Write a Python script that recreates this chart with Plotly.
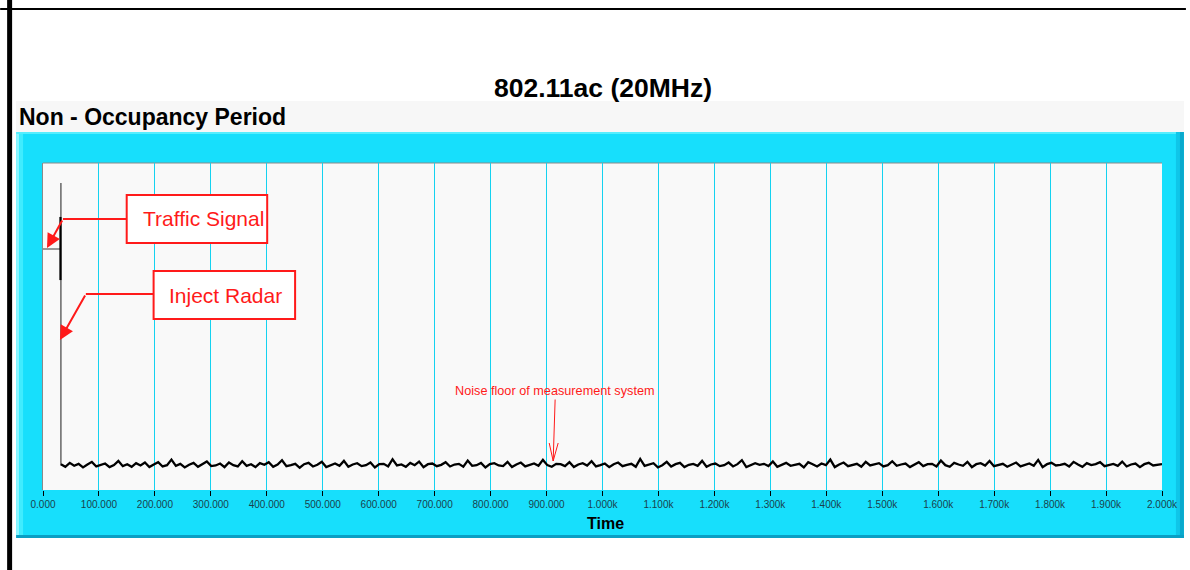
import numpy as np
import plotly.graph_objects as go

# ---------------- data ----------------
tick_values = [0, 100, 200, 300, 400, 500, 600, 700, 800, 900, 1000,
               1100, 1200, 1300, 1400, 1500, 1600, 1700, 1800, 1900, 2000]
tick_labels = ["0.000", "100.000", "200.000", "300.000", "400.000", "500.000",
               "600.000", "700.000", "800.000", "900.000", "1.000k", "1.100k",
               "1.200k", "1.300k", "1.400k", "1.500k", "1.600k", "1.700k",
               "1.800k", "1.900k", "2.000k"]

traffic_time = [0, 32]
traffic_level = [73.7, 73.7]
burst_time = [31.2, 31.2]
burst_level = [83.5, 64.2]
radar_time = [32, 32]
radar_level = [93.9, 7.6]

noise_level = [
    7.9, 7.1, 8.3, 7.4, 8.0, 6.9, 7.8, 8.6, 7.2, 7.7,
    8.1, 7.0, 7.6, 8.9, 7.3, 7.9, 7.1, 8.2, 7.5, 8.4,
    7.0, 7.8, 8.5, 7.2, 7.6, 9.3, 7.4, 8.0, 6.9, 7.7,
    8.3, 7.1, 7.9, 8.7, 7.3, 7.5, 8.1, 7.0, 8.4, 7.6,
    7.2, 8.8, 7.4, 7.9, 7.0, 8.2, 7.7, 8.5, 7.1, 7.8,
    9.1, 7.3, 7.6, 8.0, 6.8, 7.9, 8.3, 7.2, 7.7, 8.6,
    7.0, 7.5, 8.1, 7.4, 8.9, 7.1, 7.8, 8.2, 7.3, 7.6,
    8.4, 6.9, 7.9, 8.0, 7.2, 9.4, 7.5, 7.8, 7.1, 8.3,
    7.6, 8.7, 7.0, 7.9, 8.1, 7.3, 7.7, 8.5, 7.2, 7.8,
    8.0, 7.1, 9.0, 7.4, 7.6, 8.3, 6.9, 7.9, 8.2, 7.5,
    7.3, 8.6, 7.0, 7.8, 8.4, 7.2, 7.7, 8.1, 7.4, 9.2,
    7.6, 7.1, 8.0, 7.9, 7.3, 8.5, 7.0, 7.8, 8.2, 7.5,
    8.8, 7.2, 7.6, 8.1, 7.0, 7.9, 8.4, 7.3, 7.7, 8.0,
    7.1, 9.5, 7.4, 7.8, 8.2, 6.9, 7.6, 8.6, 7.2, 7.9,
    8.3, 7.0, 7.7, 8.0, 7.4, 8.9, 7.1, 7.8, 8.1, 7.3,
    7.6, 8.4, 7.2, 7.9, 9.1, 7.0, 7.5, 8.2, 7.7, 8.0,
    7.3, 8.7, 7.1, 7.8, 8.3, 7.4, 7.6, 8.0, 6.9, 8.5,
    7.9, 7.2, 8.1, 7.6, 9.3, 7.0, 7.8, 8.4, 7.3, 7.7,
    8.0, 7.1, 8.6, 7.5, 7.9, 8.2, 7.2, 7.6, 8.8, 7.4,
    7.8, 8.1, 7.0, 7.7, 8.5, 7.3, 7.9, 8.0, 7.2, 9.0,
    7.6, 7.1, 8.3, 7.8, 7.4, 8.6, 7.0, 7.9, 8.2, 7.5,
    8.9, 7.3, 7.7, 8.0, 7.1, 7.8, 8.4, 7.2, 7.6, 8.1,
    7.4, 9.2, 7.0, 7.9, 8.3, 7.5, 7.7, 8.0, 7.2, 8.6,
    7.8, 7.1, 8.2, 7.6, 7.9, 8.5, 7.3, 7.7, 8.0, 7.4,
    8.7, 7.2, 7.8, 8.1, 7.0, 7.9, 8.3, 7.5, 7.6, 7.9,
]
noise_time = np.linspace(32, 2000, len(noise_level))

# ---------------- layout helpers ----------------
W, H = 1190, 570
L, R, T, B = 43, 1166, 163, 490
PW, PH = R - L, B - T


def px(x):
    return (x - L) / PW


def py(y):
    return (B - y) / PH


FONT = "Arial, Liberation Sans, sans-serif"
CYAN = "#17dffc"
RED = "#ff1a1a"

fig = go.Figure()

fig.add_trace(go.Scatter(x=traffic_time, y=traffic_level, mode="lines",
                         line=dict(color="#555555", width=1.2), hoverinfo="skip"))
fig.add_trace(go.Scatter(x=radar_time, y=radar_level, mode="lines",
                         line=dict(color="#666666", width=1.5), hoverinfo="skip"))
fig.add_trace(go.Scatter(x=burst_time, y=burst_level, mode="lines",
                         line=dict(color="#000000", width=2.2), hoverinfo="skip"))
fig.add_trace(go.Scatter(x=noise_time, y=noise_level, mode="lines",
                         line=dict(color="#000000", width=2.3), hoverinfo="skip"))


def rect(x0, y0, x1, y1, fill, layer="below", line=None):
    return dict(type="rect", xref="paper", yref="paper",
                x0=px(x0), x1=px(x1), y0=py(y1), y1=py(y0),
                fillcolor=fill, layer=layer,
                line=line if line else dict(width=0))


def seg(x0, y0, x1, y1, color, width, layer="above"):
    return dict(type="line", xref="paper", yref="paper",
                x0=px(x0), x1=px(x1), y0=py(y0), y1=py(y1),
                line=dict(color=color, width=width), layer=layer)


shapes = [
    # light band with subtitle
    rect(16, 101, 1188, 132, "#f7f7f7"),
    # cyan panel
    rect(16, 132, 1188, 538, CYAN),
    rect(16, 132, 19, 538, "#8af6ff"),
    rect(19, 132, 23, 538, "#40ecfe"),
    rect(16, 132, 1188, 134, "#55eefe"),
    rect(1180, 132, 1184, 538, "#0fc6e8"),
    rect(1184, 132, 1188, 538, "#0aa9cd"),
    rect(16, 535, 1188, 538, "#0a9fc4"),
    # plot area
    rect(L, T, R, B, "#f9f9f9"),
    seg(L, T, R, T, "#8a8a8a", 1, "below"),
    # page frame
    rect(7, 0, 12, 570, "#000000", "above"),
    rect(0, 8, 1190, 10, "#000000", "above"),
    # callout boxes
    rect(127, 195, 268, 243, "#ffffff", "above", dict(color=RED, width=2)),
    rect(154, 271, 296, 319, "#ffffff", "above", dict(color=RED, width=2)),
    # callout arrow horizontals
    seg(127, 219, 63, 219, RED, 2),
    seg(154, 294, 86, 294, RED, 2),
    # noise arrow head (open V)
    seg(551, 443, 555, 461, RED, 1),
    seg(560, 443, 555, 461, RED, 1),
]


def xd(x):
    return (x - L) / PW * 2000


def yd(y):
    return (B - y) / PH * 100


annotations = [
    dict(text="<b>802.11ac (20MHz)</b>", x=px(605), y=py(88), xref="paper", yref="paper",
         showarrow=False, xanchor="center", yanchor="middle",
         font=dict(family=FONT, size=26.5, color="#000000")),
    dict(text="<b>Non - Occupancy Period</b>", x=px(17), y=py(117), xref="paper", yref="paper",
         showarrow=False, xanchor="left", yanchor="middle",
         font=dict(family=FONT, size=23, color="#000000")),
    dict(text="<b>Time</b>", x=px(608), y=py(523), xref="paper", yref="paper",
         showarrow=False, xanchor="center", yanchor="middle",
         font=dict(family=FONT, size=16, color="#000000")),
    dict(text="Traffic Signal", x=px(204), y=py(218), xref="paper", yref="paper",
         showarrow=False, xanchor="center", yanchor="middle",
         font=dict(family=FONT, size=21, color=RED)),
    dict(text="Inject Radar", x=px(226), y=py(295), xref="paper", yref="paper",
         showarrow=False, xanchor="center", yanchor="middle",
         font=dict(family=FONT, size=21, color=RED)),
    dict(text="Noise floor of measurement system", x=px(557), y=py(391),
         xref="paper", yref="paper", showarrow=False, xanchor="center", yanchor="middle",
         font=dict(family=FONT, size=12.7, color=RED)),
    # arrows
    dict(text="", x=xd(47), y=yd(248), xref="x", yref="y", showarrow=True,
         ax=16, ay=-29, arrowhead=2, arrowsize=1.4, arrowwidth=2, arrowcolor=RED, standoff=0),
    dict(text="", x=xd(60), y=yd(340), xref="x", yref="y", showarrow=True,
         ax=26, ay=-46, arrowhead=2, arrowsize=1.4, arrowwidth=2, arrowcolor=RED, standoff=0),
    dict(text="", x=xd(555), y=yd(461), xref="x", yref="y", showarrow=True,
         ax=2, ay=-63, arrowhead=0, arrowwidth=1, arrowcolor=RED, standoff=0),
]

fig.update_layout(
    width=W, height=H, autosize=False,
    margin=dict(l=L, r=W - R, t=T, b=H - B, pad=0),
    paper_bgcolor="#ffffff", plot_bgcolor="rgba(0,0,0,0)",
    showlegend=False,
    shapes=shapes, annotations=annotations,
    xaxis=dict(range=[0, 2000], tickmode="array", tickvals=tick_values, ticktext=tick_labels,
               showgrid=True, gridcolor="#14d2f0", gridwidth=1, zeroline=False,
               showline=False, ticks="outside", ticklen=5, tickwidth=1, tickcolor="#000000",
               tickfont=dict(family=FONT, size=10, color="#1a3f4c")),
    yaxis=dict(range=[0, 100], showgrid=False, zeroline=False, showticklabels=False,
               showline=True, linecolor="#8a8a8a", linewidth=1, ticks=""),
)

fig.write_html("out.html",
               config={"displayModeBar": False, "responsive": False},
               post_script="document.body.style.margin='0';document.body.style.overflow='hidden';")
